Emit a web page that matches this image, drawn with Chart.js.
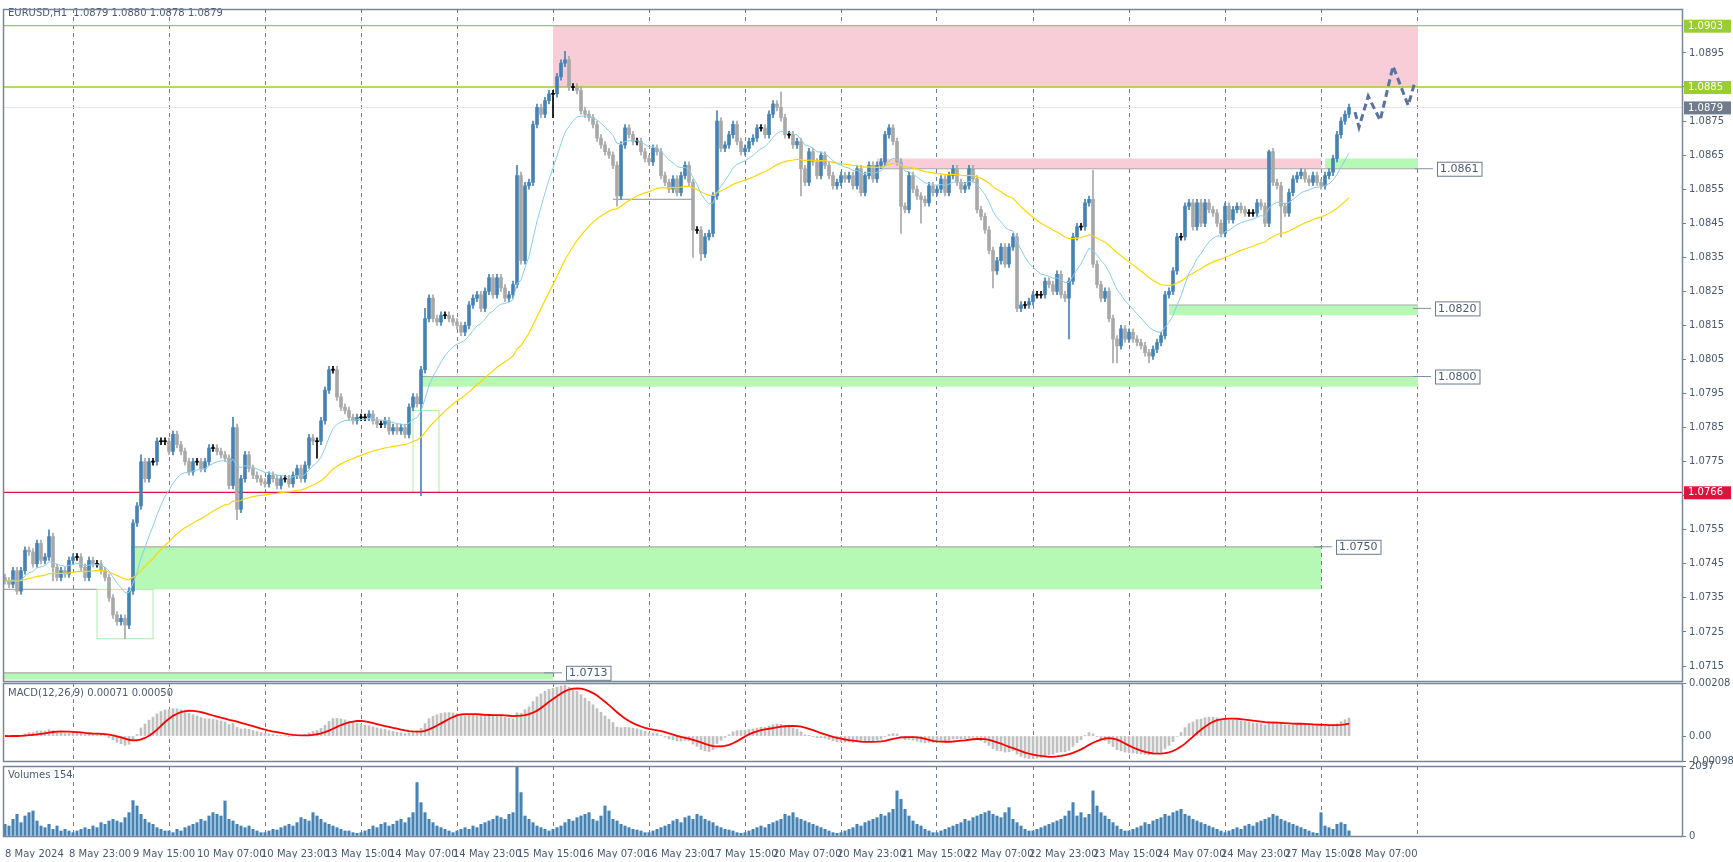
<!DOCTYPE html>
<html><head><meta charset="utf-8">
<script src="https://cdn.jsdelivr.net/npm/chart.js@4.4.1/dist/chart.umd.min.js"></script>
<style>
html,body{margin:0;padding:0;background:#fff;overflow:hidden}
canvas{position:absolute;left:0}
#main{top:0px}#macd{top:674px}#vol{top:757px}
</style></head><body>
<canvas id="main" width="1733" height="690"></canvas>
<canvas id="macd" width="1733" height="96"></canvas>
<canvas id="vol" width="1733" height="105"></canvas>
<script>
// ---- data (pips above 1.0700) ----
const closesPips = [
40,39,43,37,43,49,48.5,45,51,46,
47,53,44,41,43,42,46,47,47,44,
41,46,45,45,43,41,35,30,28,29,
27,37,57,62,75,70,75,75,81,81,
81,78,83,80,78,75,72,75,75,73,
75,79,79,78,77,76,68,85,61,70,
77,73,71,70,69,68.5,71,70,68,70,
70,68.5,71,73,70,74,82,81,81,87,
96,102,102,94,91,90,88,87,88,88,
88,89,87,86,86,87,84,85,84,85,
83,91,94,92,102,117,123,117,116,118,
118,117,116,115,113,115,121,123,124,120,
125,129,124,129,126,123,124,127,159,134,
156,157,174,179,177,181,183,183,188,192,
193,185,185,184,178,177,176,174,170,168,
166,165,162,153,168,173,171,169,169,166,
164,163,167,166,159,157,155,158,154,159,
162,157,143,143,136,141,142,153,175,167,
168,171,174,169,166,167,169,170,173,173,
171,177,180,179,176,171,171,168,169,161,
157,166,163,159,165,162,159,156,157,159,
158,159,156,161,154,159,162,158,162,163,
171,173,169,163,150,149,159,155,153,152,
151,156,154,155,158,154,159,161,157,155,
156,161,158,149,147,143,137,131,134,138,
133,138,141,120,121,121,122,124,124,124,
128,127,125,130,124,123,128,141,144,144,
151,152,133,127,123,125,117,111,109,114,
111,113,111,110,109,107,106,108,110,112,
124,125,131,141,141,150,151,144,151,145,
151,149,148,145,142,150,146,149,150,149,
148,148,148,151,150,145,166,157,156,150,
148,154,158,159,160,158,157,159,157,156,
159,160,164,171,175,177,179];
const firstOpenPips = 41;
const highPips = {57:88,105:120,128:162,140:195.5,178:178,194:183.5,272:160.5,316:166.5,11:55,34:77};
const lowPips = {12:40,30:23,58:58,78:76,104:65,137:176,153:150,172:135,174:134,199:153,224:142,229:145,247:126,253:119,266:111,277:104,278:104,286:104,315:144,319:141};
const volumes = [
350,300,500,650,400,600,700,750,450,300,250,350,200,300,150,200,150,
100,150,200,250,200,300,250,400,350,450,500,450,400,550,700,1060,900,650,500,400,350,250,200,150,
150,100,200,150,250,300,350,400,500,450,600,700,650,600,1050,500,450,350,300,250,300,200,150,100,
100,150,200,180,250,300,350,300,400,550,500,450,700,600,500,400,350,300,250,200,150,150,100,80,
100,150,200,300,250,350,400,300,350,450,500,400,550,700,1600,1000,700,500,400,300,250,200,150,100,
150,200,250,200,300,250,350,400,450,500,600,550,500,650,700,2097,1300,600,500,400,300,250,200,150,
200,250,300,400,500,450,550,600,650,700,500,450,600,900,750,500,450,350,300,250,200,180,150,100,
100,150,200,250,300,350,450,500,400,550,600,500,650,600,500,450,400,300,250,200,180,150,100,80,
100,150,200,250,300,250,350,400,450,500,650,600,700,550,500,450,400,350,300,250,200,150,100,80,
100,150,200,250,350,300,400,450,500,550,650,600,700,800,1350,1100,800,600,450,350,300,200,150,100,
100,150,200,250,300,350,400,500,450,550,600,650,700,750,650,600,550,700,850,500,400,300,200,150,
150,200,250,300,350,400,450,500,600,750,1000,600,700,550,650,1350,900,700,600,500,400,300,200,150,
150,200,250,300,400,350,450,500,550,650,600,700,750,800,650,600,500,450,400,350,300,250,200,150,
100,150,200,250,200,300,350,300,400,450,500,550,650,600,500,450,400,350,300,250,200,150,100,80,
700,300,250,200,350,400,350,154];
const dateLabels = ["8 May 2024","8 May 23:00","9 May 15:00","10 May 07:00","10 May 23:00","13 May 15:00","14 May 07:00","14 May 23:00","15 May 15:00","16 May 07:00","16 May 23:00","17 May 15:00","20 May 07:00","20 May 23:00","21 May 15:00","22 May 07:00","22 May 23:00","23 May 15:00","24 May 07:00","24 May 23:00","27 May 15:00","28 May 07:00"];
const priceTicks = [1.0715,1.0725,1.0735,1.0745,1.0755,1.0765,1.0775,1.0785,1.0795,1.0805,1.0815,1.0825,1.0835,1.0845,1.0855,1.0865,1.0875,1.0885,1.0895];
const dayStarts = [17,41,65,89,113,137,161,185,209,233,257,281,305,329,353];
const forecastX = [337.5,338.5,340.8,343.8,347,350.8,352.5];
const forecastY = [1.08776,1.08732,1.08823,1.08752,1.08911,1.08796,1.08866];
// zones: [fromIndex, toIndex, lowPrice, highPrice, kind]
const zones = [
 [137,353.25,1.0885,1.0903,'pink'],
 [218,329,1.0861,1.0864,'pink'],
 [330,353.25,1.0861,1.0864,'green'],
 [291,353.25,1.0818,1.0821,'green'],
 [104,353.25,1.0797,1.0800,'green'],
 [31.5,329,1.07375,1.0750,'green'],
 [-0.5,137,1.0711,1.0713,'green']];
const outlineBoxes = [[23,37,1.0723,1.07375],[102,108.5,1.0766,1.0790]];
const grayLines = [[-0.5,23,1.07375],[152,172,1.0852],[218,353.25,1.0861],[291,353.25,1.0821],[104,353.25,1.0800],[31.5,329,1.0750],[-0.5,137,1.0713]];
const textBoxes = [[1437,1.0861,'1.0861'],[1435,1.0820,'1.0820'],[1435,1.0800,'1.0800'],[1336,1.0750,'1.0750'],[566,1.0713,'1.0713']];
const axisTags = [[1.0903,'1.0903','#9acd32'],[1.0885,'1.0885','#9acd32'],[1.0879,'1.0879','#707c8c'],[1.0766,'1.0766','#dc143c']];

// ---- derived ----
const closes = closesPips.map(p=>1.07+p/10000);
const opens = closes.map((c,i)=> i===0 ? 1.07+firstOpenPips/10000 : closes[i-1]);
const highs = closes.map((c,i)=> highPips[i]!==undefined ? 1.07+highPips[i]/10000 : Math.max(c,opens[i])+0.0001);
const lows = closes.map((c,i)=> lowPips[i]!==undefined ? 1.07+lowPips[i]/10000 : Math.min(c,opens[i])-0.0001);
const colr = closes.map((c,i)=> c>opens[i]+1e-7 ? '#4682b4' : (c<opens[i]-1e-7 ? '#a8a8a8' : '#000000'));
const bodies = closes.map((c,i)=>{const a=Math.min(c,opens[i]),b=Math.max(c,opens[i]);return {x:i,y: b-a<0.00003?[c-0.000015,c+0.000015]:[a,b]};});
const wicks = closes.map((c,i)=>({x:i,y:[lows[i],highs[i]]}));
function ema(arr,n){const k=2/(n+1);let e=arr[0];return arr.map(v=>(e=v*k+e*(1-k)));}
const maFast = ema(closes,14), maSlow = ema(closes,50);
const e12=ema(closes,12), e26=ema(closes,26);
const macd = closes.map((c,i)=>e12[i]-e26[i]);
const signal = macd.map((v,i)=>{const s=macd.slice(Math.max(0,i-8),i+1);return s.reduce((a,b)=>a+b,0)/s.length;});

Chart.defaults.font.family = "'DejaVu Sans', sans-serif";
Chart.defaults.font.size = 10;
Chart.defaults.color = '#4a5a6e';
Chart.defaults.animation = false;
const XMIN=-0.5, XMAX=419.25, AXW=51;
function dayAxis(){return {type:'linear',min:XMIN,max:XMAX,position:'bottom',offset:false,
  afterBuildTicks:s=>{s.ticks=dayStarts.map(v=>({value:v}));},
  ticks:{display:false,padding:0}, grid:{color:'#6f7f95',lineWidth:1,drawTicks:false,offset:false},
  border:{display:false,dash:[4,4]}, afterFit:s=>{s.height=0;}};}
function yAxis(min,max,ticks,fmt){return {type:'linear',position:'right',min,max,
  afterBuildTicks:s=>{s.ticks=ticks.map(v=>({value:v}));},
  afterFit:s=>{s.width=AXW;},
  grid:{drawOnChartArea:false,drawTicks:true,tickLength:4,color:'#6f7f95'},
  border:{display:true,color:'#6f7f95'},
  ticks:{callback:fmt,padding:3,color:'#4a5a6e'}};}
const frame = {id:'frame',afterDraw(c){const a=c.chartArea,x=c.ctx;x.save();x.strokeStyle='#7a8698';x.lineWidth=1.5;x.strokeRect(a.left+0.5,a.top+0.5,a.right-a.left,a.bottom-a.top);x.restore();}};

const overlay = {id:'overlay',
 beforeDatasetsDraw(c){const ctx=c.ctx,X=v=>c.scales.x.getPixelForValue(v),Y=v=>c.scales.y.getPixelForValue(v),a=c.chartArea;
  ctx.save();ctx.beginPath();ctx.rect(a.left,a.top,a.right-a.left,a.bottom-a.top);ctx.clip();
  zones.forEach(z=>{ctx.fillStyle=z[4]==='pink'?'#f9cdd7':'#b5f9b5';ctx.fillRect(X(z[0]),Y(z[3]),X(z[1])-X(z[0]),Y(z[2])-Y(z[3]));});
  ctx.strokeStyle='#a9a9a9';ctx.lineWidth=1.2;
  grayLines.forEach(g=>{ctx.beginPath();ctx.moveTo(X(g[0]),Y(g[2]));ctx.lineTo(X(g[1]),Y(g[2]));ctx.stroke();});
  ctx.strokeStyle='#a8eea8';ctx.lineWidth=1;
  outlineBoxes.forEach(b=>{ctx.strokeRect(X(b[0]),Y(b[3]),X(b[1])-X(b[0]),Y(b[2])-Y(b[3]));});
  ctx.lineWidth=1.3;
  [[1.0903,'#9acd32'],[1.0885,'#9acd32'],[1.0766,'#dc143c']].forEach(l=>{ctx.strokeStyle=l[1];ctx.beginPath();ctx.moveTo(a.left,Y(l[0]));ctx.lineTo(a.right,Y(l[0]));ctx.stroke();});
  ctx.strokeStyle='#e2e2f2';ctx.lineWidth=1;ctx.beginPath();ctx.moveTo(a.left,Y(1.0879));ctx.lineTo(a.right,Y(1.0879));ctx.stroke();
  ctx.restore();},
 afterDraw(c){const ctx=c.ctx,Y=v=>c.scales.y.getPixelForValue(v),a=c.chartArea;
  ctx.save();ctx.font="11px 'DejaVu Sans'";ctx.textBaseline='middle';
  textBoxes.forEach(t=>{const y=Y(t[1]);ctx.strokeStyle='#8090a4';ctx.lineWidth=1;ctx.beginPath();ctx.moveTo(t[0]-22,y);ctx.lineTo(t[0]-4,y);ctx.stroke();
   const w=ctx.measureText(t[2]).width+6;ctx.fillStyle='#fff';ctx.fillRect(t[0],y-7,w,14);ctx.strokeStyle='#6a7a90';ctx.strokeRect(t[0]+0.5,y-6.5,w,14);ctx.fillStyle='#4a5a70';ctx.fillText(t[2],t[0]+3,y+0.5);});
  ctx.font="10px 'DejaVu Sans'";
  axisTags.forEach(t=>{const y=Y(t[0]);ctx.fillStyle=t[2];ctx.fillRect(a.right+2,y-6,47,13);ctx.fillStyle='#fff';ctx.fillText(t[1],a.right+6,y+0.5);});
  ctx.fillStyle='#4a5a6e';ctx.fillText('EURUSD,H1  1.0879 1.0880 1.0878 1.0879',8,13);
  ctx.restore();}};

new Chart(document.getElementById('main'),{type:'bar',
 data:{datasets:[
  {type:'line',data:forecastX.map((x,i)=>({x,y:forecastY[i]})),borderColor:'#5a72a0',borderWidth:3,borderDash:[7,4],pointRadius:0,order:0},
  {type:'line',data:maFast.map((y,x)=>({x,y})),borderColor:'#87ceeb',borderWidth:1,pointRadius:0,order:1},
  {type:'line',data:maSlow.map((y,x)=>({x,y})),borderColor:'#ffd700',borderWidth:1.2,pointRadius:0,order:1},
  {data:bodies,backgroundColor:colr,barThickness:3,grouped:false,order:2},
  {data:wicks,backgroundColor:colr,barThickness:1,grouped:false,order:3}]},
 options:{responsive:false,devicePixelRatio:1,layout:{padding:{top:4,bottom:4,left:3,right:0}},
  plugins:{legend:{display:false},tooltip:{enabled:false}},
  scales:{x:dayAxis(),y:yAxis(1.07106,1.09079,priceTicks,v=>v.toFixed(4))}},
 plugins:[overlay,frame]});

const macdText={id:'mt',afterDraw(c){const x=c.ctx;x.save();x.fillStyle='#4a5a6e';x.font="10px 'DejaVu Sans'";x.fillText('MACD(12,26,9) 0.00071 0.00050',8,c.chartArea.top+13);x.restore();}};
new Chart(document.getElementById('macd'),{type:'bar',
 data:{datasets:[
  {type:'line',data:signal.map((y,x)=>({x,y})),borderColor:'#ff0000',borderWidth:1.8,pointRadius:0,order:0},
  {data:macd.map((y,x)=>({x,y})),backgroundColor:'#c0c0c0',barThickness:2,grouped:false,order:1}]},
 options:{responsive:false,devicePixelRatio:1,layout:{padding:{top:2,bottom:2,left:3,right:0}},
  plugins:{legend:{display:false},tooltip:{enabled:false}},
  scales:{x:dayAxis(),y:yAxis(-0.00098,0.00208,[-0.00098,0,0.00208],v=>v===0?'0.00':v.toFixed(5))}},
 plugins:[macdText,frame]});

const volText={id:'vt',afterDraw(c){const x=c.ctx;x.save();x.fillStyle='#4a5a6e';x.font="10px 'DejaVu Sans'";x.fillText('Volumes 154',8,c.chartArea.top+12);x.restore();}};
new Chart(document.getElementById('vol'),{type:'bar',
 data:{datasets:[{data:volumes.map((y,x)=>({x,y})),backgroundColor:'#4682b4',barThickness:2.4,grouped:false}]},
 options:{responsive:false,devicePixelRatio:1,layout:{padding:{top:2,bottom:4,left:3,right:0}},
  plugins:{legend:{display:false},tooltip:{enabled:false}},
  scales:{x:dayAxis(),
   xl:{type:'linear',min:XMIN,max:XMAX,position:'bottom',offset:false,
    afterBuildTicks:s=>{s.ticks=dateLabels.map((l,k)=>({value:k*16}));},
    ticks:{autoSkip:false,maxRotation:0,align:'start',padding:4,color:'#4a5a6e',callback:(v)=>dateLabels[Math.round(v/16)]},
    grid:{display:false},border:{display:false},afterFit:s=>{s.height=22;}},
   y:yAxis(0,2097,[0,2097],v=>String(v))}},
 plugins:[volText,frame]});
</script></body></html>
